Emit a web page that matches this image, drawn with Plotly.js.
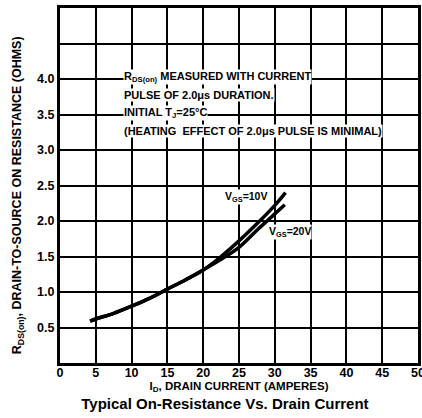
<!DOCTYPE html>
<html>
<head>
<meta charset="utf-8">
<script src="https://cdn.plot.ly/plotly-3.0.1.min.js"></script>
<style>html,body{margin:0;padding:0;background:#fff;}#chart{width:422px;height:418px;}</style>
</head>
<body>
<div id="chart"></div>
<script>
// Drain current (A) and on-resistance (ohms)
const idVgs10 = [4.2, 5, 7.5, 10, 12.5, 15, 17.5, 20, 22.5, 25, 27.5, 30, 31.5];
const rVgs10  = [0.59, 0.62, 0.70, 0.80, 0.91, 1.04, 1.17, 1.31, 1.50, 1.72, 1.96, 2.22, 2.40];
const idVgs20 = [4.2, 5, 7.5, 10, 12.5, 15, 17.5, 20, 22.5, 25, 27.5, 30, 31.4];
const rVgs20  = [0.59, 0.62, 0.70, 0.80, 0.91, 1.04, 1.17, 1.31, 1.46, 1.63, 1.87, 2.10, 2.23];

const xTickVals = [0, 5, 10, 15, 20, 25, 30, 35, 40, 45, 50];
const xTickText = ["0", "5", "10", "15", "20", "25", "30", "35", "40", "45", "50"];
const yTickVals = [0.5, 1.0, 1.5, 2.0, 2.5, 3.0, 3.5, 4.0, 4.5];
const yTickText = ["0.5", "1.0", "1.5", "2.0", "2.5", "3.0", "3.5", "4.0", ""];

const noteLines = [
  "R<sub>DS(on)</sub> MEASURED WITH CURRENT",
  "PULSE OF 2.0μs DURATION.",
  "INITIAL T<sub>J</sub>=25°C",
  "(HEATING  EFFECT OF 2.0μs PULSE IS MINIMAL)"
];
const noteY = [4.03, 3.77, 3.52, 3.27];
const curveLabels = ["V<sub>GS</sub>=10V", "V<sub>GS</sub>=20V"];
const curveLabelX = [22.9, 29.0];
const curveLabelY = [2.34, 1.85];

const yTitleText = "R<sub>DS(on)</sub>, DRAIN-TO-SOURCE ON RESISTANCE (OHMS)";
const xTitleText = "I<sub>D</sub>, DRAIN CURRENT (AMPERES)";
const chartTitle = "Typical On-Resistance Vs. Drain Current";

const FONT = "Liberation Sans, Arial, Helvetica, sans-serif";
const bold = (s) => s === "" ? "" : "<b>" + s + "</b>";

const traces = [
  {x: idVgs10, y: rVgs10, mode: "lines", line: {color: "#000", width: 3.5, shape: "spline"}, hoverinfo: "skip"},
  {x: idVgs20, y: rVgs20, mode: "lines", line: {color: "#000", width: 3.5, shape: "spline"}, hoverinfo: "skip"}
];

const annotations = [];
noteLines.forEach((t, i) => annotations.push({
  x: 8.8, y: noteY[i], xref: "x", yref: "y", text: bold(t), showarrow: false,
  xanchor: "left", yanchor: "middle", bgcolor: "#fff", borderpad: 0,
  font: {family: FONT, size: 11, color: "#000"}
}));
curveLabels.forEach((t, i) => annotations.push({
  x: curveLabelX[i], y: curveLabelY[i], xref: "x", yref: "y", text: bold(t), showarrow: false,
  xanchor: "left", yanchor: "middle", bgcolor: "#fff", borderpad: 0,
  font: {family: FONT, size: 10.5, color: "#000"}
}));
annotations.push({
  x: -0.117, y: 0.473, xref: "paper", yref: "paper", text: bold(yTitleText), showarrow: false,
  textangle: -90, xanchor: "center", yanchor: "middle",
  font: {family: FONT, size: 12.5, color: "#000"}
});

const layout = {
  width: 422, height: 418,
  margin: {l: 60, r: 4, t: 8, b: 55},
  paper_bgcolor: "#fff", plot_bgcolor: "#fff",
  showlegend: false,
  font: {family: FONT, color: "#000"},
  title: {
    text: bold(chartTitle),
    x: 0.533, xref: "container", xanchor: "center",
    y: 0.034, yref: "container", yanchor: "middle",
    font: {family: FONT, size: 15, color: "#000"}
  },
  xaxis: {
    range: [0, 50], tickvals: xTickVals, ticktext: xTickText.map(bold),
    showgrid: true, gridcolor: "#000", gridwidth: 2,
    showline: true, linecolor: "#000", linewidth: 3, mirror: true,
    zeroline: false, ticks: "", ticklen: 0, ticklabeloverflow: "allow",
    ticklabelstandoff: -4,
    tickfont: {family: FONT, size: 12.5, color: "#000"},
    title: {text: bold(xTitleText), standoff: 2,
            font: {family: FONT, size: 11.5, color: "#000"}},
    automargin: false, fixedrange: true
  },
  yaxis: {
    range: [0, 5], tickvals: yTickVals, ticktext: yTickText.map(bold),
    showgrid: true, gridcolor: "#000", gridwidth: 2,
    showline: true, linecolor: "#000", linewidth: 3, mirror: true,
    zeroline: false, ticks: "", ticklen: 0,
    tickfont: {family: FONT, size: 12.5, color: "#000"},
    automargin: false, fixedrange: true
  },
  annotations: annotations
};

Plotly.newPlot("chart", traces, layout, {staticPlot: true, displayModeBar: false});
</script>
</body>
</html>
